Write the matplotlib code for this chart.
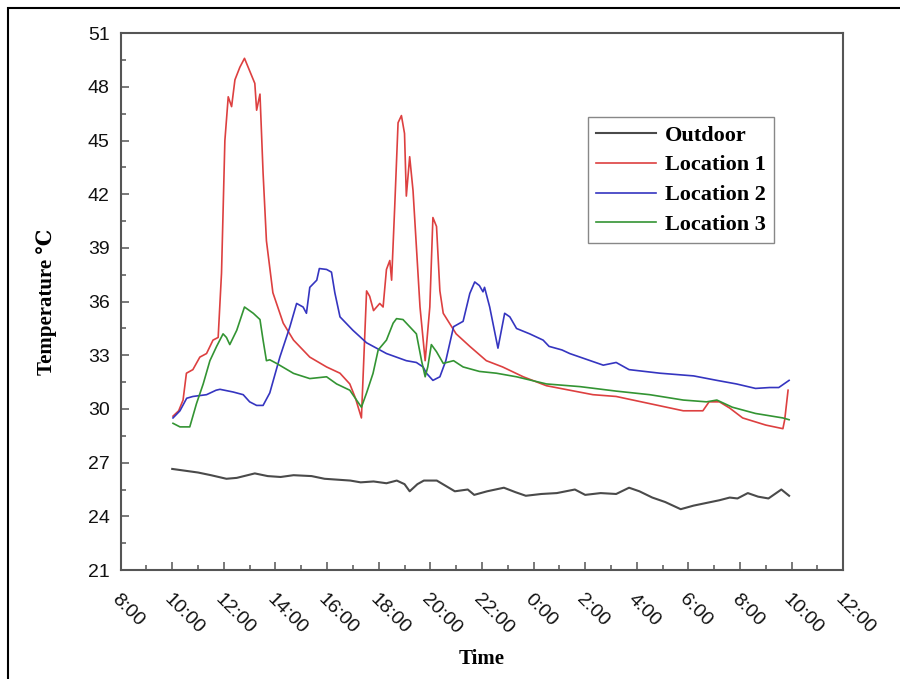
import matplotlib
matplotlib.use("Agg")
import matplotlib.pyplot as plt
from matplotlib.ticker import MultipleLocator
from matplotlib.patches import Rectangle

# hours since 0:00 of day one (values > 24 are the next morning)
outdoor_t = [10.0, 10.5, 11.0, 11.5, 12.1, 12.5, 13.2, 13.7, 14.2, 14.7, 15.4, 15.9, 16.4,
             16.9, 17.3, 17.8, 18.3, 18.7, 19.0, 19.2, 19.5, 19.75, 20.25, 20.6, 20.95,
             21.45, 21.7, 22.2, 22.85, 23.3, 23.7, 24.3, 24.9, 25.6, 26.0, 26.6, 27.2,
             27.7, 28.1, 28.6, 29.1, 29.7, 30.2, 30.7, 31.2, 31.6, 31.9, 32.3, 32.7,
             33.1, 33.6, 33.9]
outdoor_v = [26.65, 26.55, 26.45, 26.3, 26.1, 26.15, 26.4, 26.25, 26.2, 26.3, 26.25, 26.1,
             26.05, 26.0, 25.9, 25.95, 25.85, 26.0, 25.8, 25.4, 25.8, 26.0, 26.0, 25.7,
             25.4, 25.5, 25.2, 25.4, 25.6, 25.35, 25.15, 25.25, 25.3, 25.5, 25.2, 25.3,
             25.25, 25.6, 25.4, 25.05, 24.8, 24.4, 24.6, 24.75, 24.9, 25.05, 25.0, 25.3,
             25.1, 25.0, 25.5, 25.15]

loc1_t = [10.03, 10.25, 10.42, 10.55, 10.8, 11.07, 11.33, 11.58, 11.78, 11.91, 12.04, 12.17,
          12.3, 12.43, 12.62, 12.8, 13.0, 13.2, 13.27, 13.4, 13.52, 13.65, 13.9, 14.3, 14.7,
          15.33, 15.98, 16.5, 16.88, 17.1, 17.33, 17.53, 17.65, 17.8, 18.04, 18.17, 18.3,
          18.43, 18.5, 18.62, 18.75, 18.88, 19.0, 19.07, 19.2, 19.33, 19.6, 19.8, 19.98,
          20.1, 20.24, 20.37, 20.5, 21.0, 21.53, 22.17, 22.8, 23.6, 24.5, 25.4, 26.3, 27.2,
          28.5, 29.8, 30.56, 30.8, 31.2, 31.6, 32.1, 33.0, 33.66, 33.73, 33.86]
loc1_v = [29.6, 29.9, 30.5, 32.0, 32.2, 32.9, 33.1, 33.85, 34.0, 37.6, 45.0, 47.45, 46.9,
          48.4, 49.1, 49.6, 48.9, 48.2, 46.7, 47.6, 43.2, 39.4, 36.5, 34.8, 33.85, 32.9,
          32.35, 32.0, 31.4, 30.6, 29.5, 36.6, 36.3, 35.5, 35.9, 35.7, 37.8, 38.3, 37.2,
          41.3, 46.0, 46.4, 45.4, 41.9, 44.1, 42.2, 35.7, 32.7, 35.7, 40.7, 40.2, 36.6,
          35.35, 34.2, 33.5, 32.7, 32.35, 31.8, 31.3, 31.05, 30.8, 30.7, 30.3, 29.9, 29.9,
          30.4, 30.4, 30.05, 29.5, 29.1, 28.9, 29.4, 31.05]

loc2_t = [10.03, 10.3, 10.56, 10.8, 11.33, 11.7, 11.85, 12.36, 12.75, 13.0, 13.27, 13.52,
          13.78, 14.17, 14.56, 14.82, 15.07, 15.2, 15.33, 15.6, 15.7, 15.98, 16.17, 16.3,
          16.5, 17.0, 17.53, 18.3, 19.07, 19.46, 19.72, 19.85, 20.1, 20.37, 20.6, 20.9,
          21.27, 21.53, 21.72, 21.9, 22.04, 22.1, 22.3, 22.62, 22.88, 23.08, 23.34, 23.85,
          24.37, 24.6, 25.1, 25.4, 25.9, 26.7, 27.2, 27.7, 28.9, 30.2, 31.1, 31.86, 32.6,
          33.15, 33.5, 33.9]
loc2_v = [29.5, 29.9, 30.6, 30.7, 30.8, 31.05, 31.1, 30.95, 30.8, 30.4, 30.2, 30.2, 30.9,
          32.9, 34.6, 35.9, 35.7, 35.35, 36.8, 37.2, 37.85, 37.8, 37.65, 36.5, 35.15, 34.4,
          33.7, 33.1, 32.7, 32.6, 32.35, 32.0, 31.6, 31.8, 32.7, 34.6, 34.9, 36.46, 37.1,
          36.9, 36.55, 36.8, 35.7, 33.4, 35.35, 35.15, 34.5, 34.2, 33.85, 33.5, 33.3, 33.1,
          32.85, 32.45, 32.6, 32.2, 32.0, 31.85, 31.6, 31.4, 31.15, 31.2, 31.2, 31.6]

loc3_t = [10.03, 10.3, 10.68, 10.94, 11.2, 11.46, 11.72, 11.97, 12.1, 12.23, 12.5, 12.8,
          13.14, 13.4, 13.52, 13.65, 13.78, 14.04, 14.7, 15.33, 15.98, 16.37, 16.88, 17.14,
          17.33, 17.53, 17.78, 17.98, 18.3, 18.56, 18.69, 18.94, 19.2, 19.46, 19.66, 19.8,
          19.9, 20.04, 20.24, 20.5, 20.9, 21.27, 21.9, 22.56, 23.34, 24.5, 25.8, 27.2, 28.5,
          29.8, 30.7, 31.1, 31.7, 32.6, 33.66, 33.9]
loc3_v = [29.2, 29.0, 29.0, 30.3, 31.4, 32.7, 33.5, 34.2, 34.0, 33.6, 34.4, 35.7, 35.35,
          35.0, 33.85, 32.7, 32.75, 32.55, 31.99, 31.7, 31.8, 31.4, 31.05, 30.5, 30.1, 30.9,
          31.99, 33.3, 33.85, 34.8, 35.05, 35.0, 34.6, 34.2, 32.7, 31.8, 32.35, 33.6, 33.2,
          32.55, 32.7, 32.35, 32.1, 32.0, 31.8, 31.4, 31.25, 31.0, 30.8, 30.5, 30.4, 30.5,
          30.1, 29.75, 29.5, 29.4]

x_ticks = list(range(8, 37, 2))
x_labels = ["%d:00" % (h % 24) for h in x_ticks]

fig = plt.figure(figsize=(9, 6.79), dpi=100)
ax = fig.add_axes([0.134, 0.1605, 0.937 - 0.134, 0.951 - 0.1605])

ax.plot(outdoor_t, outdoor_v, color="#4a4a4a", lw=1.5, label="Outdoor")
ax.plot(loc1_t, loc1_v, color="#dd4040", lw=1.2, label="Location 1")
ax.plot(loc2_t, loc2_v, color="#3535c0", lw=1.2, label="Location 2")
ax.plot(loc3_t, loc3_v, color="#339433", lw=1.2, label="Location 3")

ax.set_xlim(8, 36)
ax.set_ylim(21, 51)
ax.set_xticks(x_ticks)
ax.set_xticklabels(x_labels)
ax.xaxis.set_minor_locator(MultipleLocator(1))
ax.set_yticks(range(21, 52, 3))
ax.yaxis.set_minor_locator(MultipleLocator(1.5))

for s in ax.spines.values():
    s.set_linewidth(1.5)
    s.set_color("#555555")
ax.tick_params(which="major", direction="in", length=5.5, width=1.1, color="#555555")
ax.tick_params(which="minor", direction="in", length=3.5, width=1.1, color="#555555")
ax.tick_params(axis="y", which="major", pad=8)
ax.tick_params(axis="x", which="major", pad=15)

for lbl in ax.get_yticklabels():
    lbl.set_fontfamily("Liberation Sans")
    lbl.set_fontsize(14)
    lbl.set_color("#111111")
for lbl in ax.get_xticklabels():
    lbl.set_fontfamily("Liberation Sans")
    lbl.set_fontsize(14)
    lbl.set_color("#111111")
    lbl.set_rotation(-45)
    lbl.set_ha("left")
    lbl.set_va("top")
    lbl.set_rotation_mode("anchor")

ax.set_xlabel("Time", family=["Liberation Serif", "DejaVu Serif"], fontsize=15, fontweight="bold")
ax.set_ylabel("Temperature ℃", family=["Liberation Serif", "DejaVu Serif"], fontsize=15,
              fontweight="bold")
ax.xaxis.set_label_coords(0.5, -0.148)
ax.yaxis.set_label_coords(-0.088, 0.5)

leg = ax.legend(loc="upper left", bbox_to_anchor=(0.647, 0.8436), borderaxespad=0,
                prop={"family": "Liberation Serif", "weight": "bold", "size": 16},
                fancybox=False, edgecolor="#888888", framealpha=1, handlelength=2.7,
                handletextpad=0.4, labelspacing=0.42, borderpad=0.35)
leg.get_frame().set_linewidth(1.0)

# outer frame of the picture (only top and left edges are visible)
fig.patches.append(Rectangle((0.009, -0.1), 1.2, 1.088, transform=fig.transFigure,
                             fill=False, edgecolor="black", lw=1.5))

fig.savefig("out.png", dpi=100)
